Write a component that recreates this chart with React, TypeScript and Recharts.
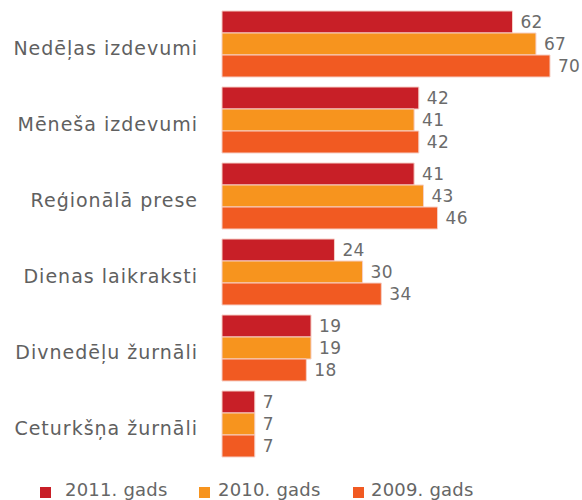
import { BarChart, Bar, XAxis, YAxis, LabelList, Legend } from "recharts";

const categories = [
  "Nedēļas izdevumi",
  "Mēneša izdevumi",
  "Reģionālā prese",
  "Dienas laikraksti",
  "Divnedēļu žurnāli",
  "Ceturkšņa žurnāli",
];
const y2011 = [62, 42, 41, 24, 19, 7];
const y2010 = [67, 41, 43, 30, 19, 7];
const y2009 = [70, 42, 46, 34, 18, 7];

const series = [
  { key: "y2011", name: "2011. gads", color: "#c81f27" },
  { key: "y2010", name: "2010. gads", color: "#f7941e" },
  { key: "y2009", name: "2009. gads", color: "#f15a22" },
];

const data = categories.map((name, i) => ({
  name,
  y2011: y2011[i],
  y2010: y2010[i],
  y2009: y2009[i],
}));

const FONT = "'DejaVu Sans', Verdana, sans-serif";
const legendSquareX = [40, 199, 353];
const legendTextX = [65, 218, 371];

function LegendRow() {
  return (
    <div style={{ height: 34, position: "relative", fontFamily: FONT, fontSize: 18, color: "#666", letterSpacing: 0.2 }}>
      {series.map((s, i) => (
        <div key={s.key}>
          <span
            style={{
              position: "absolute",
              left: legendSquareX[i],
              top: 25,
              width: 11,
              height: 11,
              background: s.color,
            }}
          />
          <span style={{ position: "absolute", left: legendTextX[i], top: 17, lineHeight: "21px", whiteSpace: "nowrap" }}>
            {s.name}
          </span>
        </div>
      ))}
    </div>
  );
}

export default function App() {
  return (
    <div style={{ position: "absolute", left: 0, top: 0, background: "#fff" }}>
      <BarChart
        width={582}
        height={500}
        data={data}
        layout="vertical"
        margin={{ top: 6, right: 32, left: 0, bottom: 4 }}
        barCategoryGap={5}
        barGap={0}
      >
        <XAxis type="number" domain={[0, 70]} hide />
        <YAxis
          type="category"
          dataKey="name"
          width={222}
          axisLine={false}
          tickLine={false}
          tickMargin={18}
          tick={{ fill: "#606060", fontSize: 19, fontFamily: FONT, letterSpacing: 1, dy: 4 }}
        />
        <Legend verticalAlign="bottom" content={() => <LegendRow />} />
        {series.map((s) => (
          <Bar
            key={s.key}
            dataKey={s.key}
            name={s.name}
            fill={s.color}
            stroke="#f6cfc6"
            strokeWidth={1}
            isAnimationActive={false}
          >
            <LabelList
              dataKey={s.key}
              position="right"
              offset={8}
              style={{ fill: "#6b6b6b", fontSize: 17, fontFamily: FONT, letterSpacing: 0.3 }}
            />
          </Bar>
        ))}
      </BarChart>
    </div>
  );
}
